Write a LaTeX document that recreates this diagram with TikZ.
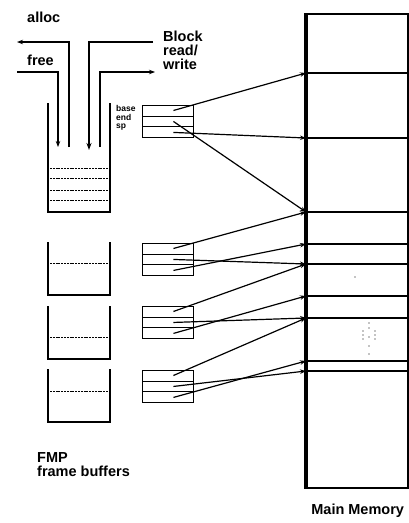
\documentclass[tikz,border=0pt]{standalone}
\usepackage{fontspec}
\setmainfont{Liberation Sans}
\usetikzlibrary{arrows.meta,calc,positioning}

\tikzset{
  lbl/.style={font=\bfseries\fontsize{14.5}{14}\selectfont, inner sep=0pt, align=left},
  fld/.style={font=\bfseries\fontsize{8.5}{9}\selectfont, inner sep=0pt},
  ptr/.style={line width=1.2pt, -{Stealth[length=6pt,width=4.5pt]}},
  bigptr/.style={line width=1.9pt, -{Stealth[length=7pt,width=5pt]}},
  wall/.style={line width=1.4pt},
  level/.style={line width=0.8pt, dash pattern=on 2pt off 0.8pt},
  regbox/.style={draw, line width=0.9pt, minimum width=51pt, minimum height=32pt, inner sep=0pt, anchor=north west},
}

\begin{document}
\begin{tikzpicture}[x=1pt,y=-1pt]
  \useasboundingbox (0,0) rectangle (409,523);

  % main memory
  \node[draw, line width=2.4pt, minimum width=101pt, minimum height=474pt,
        inner sep=0pt, anchor=north west] (mem) at (306,13) {};
  \draw[line width=4.5pt] (mem.north west) -- (mem.south west);
  \foreach \y/\w in {73/1.6,138/1.5,212/2.2,244/1.6,264/2.2,296/1.6,318/1.9,361/1.6,371/1.9}{
    \coordinate (m\y) at (306,\y);
    \draw[line width=\w pt] (m\y) -- (407,\y);
  }
  \foreach \p in {(355,277),(369,323),(369,328),(363,331),(375,331),(363,335),
                  (369,337),(375,335),(363,339),(375,339),(369,346),(369,354)}
    \fill \p circle (0.55pt);
  \node[lbl, below=14pt of mem.south] (memlbl) {Main Memory};

  % frame buffers
  \draw[wall] (48,103) -- (48,212) -- (110,212) -- (110,103);
  \foreach \y in {168,178,190,200}
    \draw[level] (50,\y) -- (108,\y);
  \foreach \t/\d in {242/21,306/31,369/22}{
    \draw[wall] (48,\t) -- (48,\t+53) -- (110,\t+53) -- (110,\t);
    \draw[level] (50,\t+\d) -- (108,\t+\d);
  }
  \node[lbl, anchor=north west] (fmp) at (37,452) {FMP\\frame buffers};

  % buffer registers
  \foreach \i/\t in {1/105,2/243,3/306,4/370}{
    \node[regbox] (r\i) at (142,\t) {};
    \draw[line width=0.9pt] ($(r\i.north west)!1/3!(r\i.south west)$) -- ($(r\i.north east)!1/3!(r\i.south east)$);
    \draw[line width=0.9pt] ($(r\i.north west)!2/3!(r\i.south west)$) -- ($(r\i.north east)!2/3!(r\i.south east)$);
    \coordinate (base\i) at ($(r\i.north)!1/6!(r\i.south)+(5.5,0)$);
    \coordinate (end\i) at ($(r\i.north)!1/2!(r\i.south)+(5.5,0)$);
    \coordinate (sp\i) at ($(r\i.north)!5/6!(r\i.south)+(5.5,0)$);
  }
  \node[fld, anchor=west] (lbase) at (116,108) {base};
  \node[fld, anchor=west] (lend) at (116,117.5) {end};
  \node[fld, anchor=west] (lsp) at (116,127) {sp};

  % pointers into memory
  \foreach \a/\b in {base1/m73,end1/m212,sp1/m138,
                     base2/m212,end2/m264,sp2/m244,
                     base3/m264,end3/m318,sp3/m296,
                     base4/m318,end4/m371,sp4/m361}
    \draw[ptr] (\a) -- (\b);

  % operations
  \node[lbl, anchor=west] (alloc) at (27,17) {alloc};
  \node[lbl, anchor=west] (free) at (27,60) {free};
  \node[lbl, anchor=north west] (blk) at (163,31) {Block\\read/\\write};
  \coordinate (allocin) at (69,147);
  \coordinate (allocout) at (17,42);
  \coordinate (freein) at (17,72);
  \coordinate (freeout) at (58,147);
  \coordinate (rdin) at (153,42);
  \coordinate (rdout) at (89,150);
  \coordinate (wrin) at (100,147);
  \coordinate (wrout) at (155,72);
  \draw[ptr] (allocin) |- (allocout);
  \draw[ptr] (freein) -| (freeout);
  \draw[bigptr] (rdin) -| (rdout);
  \draw[ptr] (wrin) |- (wrout);
\end{tikzpicture}
\end{document}
